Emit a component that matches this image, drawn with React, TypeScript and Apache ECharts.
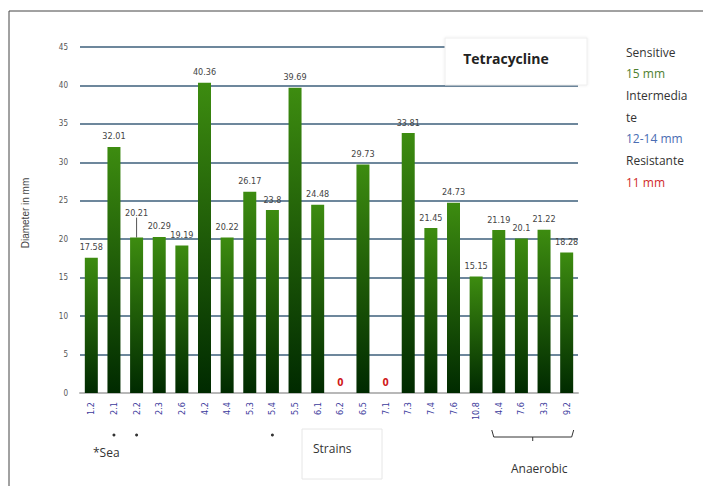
import React, { useEffect, useRef } from "react";
import * as echarts from "echarts";

const strains = ["1.2", "2.1", "2.2", "2.3", "2.6", "4.2", "4.4", "5.3", "5.4", "5.5", "6.1", "6.2", "6.5", "7.1", "7.3", "7.4", "7.6", "10.8", "4.4", "7.6", "3.3", "9.2"];
const diameters = [17.58, 32.01, 20.21, 20.29, 19.19, 40.36, 20.22, 26.17, 23.8, 39.69, 24.48, 0, 29.73, 0, 33.81, 21.45, 24.73, 15.15, 21.19, 20.1, 21.22, 18.28];
const seaStrainIdx = [1, 2, 8];
const anaerobicIdx = [18, 21];
const leaderLabelIdx = 2;
const legendLines = [
  { text: "Sensitive", color: "#333333" },
  { text: "15 mm", color: "#4f7f2f" },
  { text: "Intermedia", color: "#333333" },
  { text: "te", color: "#333333" },
  { text: "12-14 mm", color: "#4a6db3" },
  { text: "Resistante", color: "#333333" },
  { text: "11 mm", color: "#d02a2a" },
];

export default function App() {
  const ref = useRef<HTMLDivElement>(null);
  useEffect(() => {
    document.body.style.margin = "0";
    const chart = echarts.init(ref.current!, null, { renderer: "svg" });
    const barGrad = new echarts.graphic.LinearGradient(0, 0, 0, 1, [
      { offset: 0, color: "#3d8c10" },
      { offset: 1, color: "#002a00" },
    ]);
    const data = diameters.map((v, i) => {
      if (v === 0)
        return { value: v, label: { color: "#d01818", fontWeight: "bold", fontSize: 10, distance: 6 } };
      if (i === leaderLabelIdx)
        return { value: v, labelLine: { show: true, lineStyle: { color: "#555", width: 1 } } };
      return { value: v };
    });
    chart.setOption({
      animation: false,
      backgroundColor: "#ffffff",
      grid: { left: 80, right: 125, top: 47, bottom: 93 },
      xAxis: {
        type: "category",
        data: strains,
        axisLine: { lineStyle: { color: "#b8b8b8", width: 2 } },
        axisTick: { show: false },
        axisLabel: {
          rotate: 90,
          color: "#3b3b9c",
          fontSize: 9,
          margin: 9,
          interval: 0,
          fontFamily: "Liberation Sans Narrow, DejaVu Sans Condensed, sans-serif",
        },
      },
      yAxis: {
        type: "value",
        min: 0,
        max: 45,
        interval: 5,
        axisLine: { show: false },
        axisTick: { show: false },
        axisLabel: {
          color: "#555",
          fontSize: 8,
          margin: 12,
          fontFamily: "Liberation Sans Narrow, DejaVu Sans Condensed, sans-serif",
        },
        splitLine: { lineStyle: { color: "#6d879c", width: 2 } },
      },
      series: [
        {
          type: "bar",
          data,
          barWidth: 13,
          itemStyle: { color: barGrad },
          label: {
            show: true,
            position: "top",
            distance: 6,
            fontSize: 9,
            color: "#444",
            fontFamily: "Liberation Sans Narrow, DejaVu Sans Condensed, sans-serif",
          },
          labelLine: { show: false },
          labelLayout: (p: any) => (p.dataIndex === leaderLabelIdx ? { dy: -14 } : {}),
        },
      ],
    });

    const px = (i: number) => chart.convertToPixel({ xAxisIndex: 0 }, i) as number;
    const graphics: any[] = [
      {
        type: "rect",
        shape: { x: 9, y: 11, width: 800, height: 600 },
        style: { fill: "none", stroke: "#444", lineWidth: 1 },
        silent: true,
        z: 100,
      },
      {
        type: "rect",
        shape: { x: 445, y: 38, width: 142, height: 47 },
        style: { fill: "#ffffff", stroke: "#eeeeee", lineWidth: 1, shadowBlur: 3, shadowColor: "rgba(0,0,0,0.08)" },
        z: 100,
      },
      {
        type: "text",
        x: 506,
        y: 58,
        style: {
          text: "Tetracycline",
          font: "bold 14px 'Open Sans', sans-serif",
          fill: "#222",
          textAlign: "center",
          textVerticalAlign: "middle",
        },
        z: 101,
      },
      {
        type: "text",
        x: 25,
        y: 213,
        rotation: Math.PI / 2,
        style: {
          text: "Diameter in mm",
          font: "10px 'Liberation Sans', sans-serif",
          fill: "#444",
          textAlign: "center",
          textVerticalAlign: "middle",
        },
        z: 100,
      },
      ...legendLines.map((l, i) => ({
        type: "text",
        x: 626,
        y: 52 + i * 21.7,
        style: {
          text: l.text,
          font: "12px 'Open Sans', sans-serif",
          fill: l.color,
          textVerticalAlign: "middle",
        },
        z: 100,
      })),
      ...seaStrainIdx.map((i) => ({
        type: "circle",
        shape: { cx: px(i), cy: 435, r: 1.5 },
        style: { fill: "#333" },
        z: 100,
      })),
      {
        type: "text",
        x: 93,
        y: 452,
        style: { text: "*Sea", font: "12px 'Open Sans', sans-serif", fill: "#333", textVerticalAlign: "middle" },
        z: 100,
      },
      {
        type: "rect",
        shape: { x: 302, y: 429, width: 80, height: 50 },
        style: { fill: "#ffffff", stroke: "#e6e6e6", lineWidth: 1 },
        z: 100,
      },
      {
        type: "text",
        x: 313,
        y: 448,
        style: { text: "Strains", font: "12px 'Open Sans', sans-serif", fill: "#333", textVerticalAlign: "middle" },
        z: 101,
      },
      {
        type: "polyline",
        shape: {
          points: [
            [px(anaerobicIdx[0]) - 7, 430],
            [px(anaerobicIdx[0]) - 5, 437],
            [px(anaerobicIdx[1]) + 5, 437],
            [px(anaerobicIdx[1]) + 7, 430],
          ],
        },
        style: { stroke: "#333", lineWidth: 1, fill: "none" },
        z: 100,
      },
      {
        type: "line",
        shape: {
          x1: (px(anaerobicIdx[0]) + px(anaerobicIdx[1])) / 2,
          y1: 437,
          x2: (px(anaerobicIdx[0]) + px(anaerobicIdx[1])) / 2,
          y2: 441,
        },
        style: { stroke: "#333", lineWidth: 1 },
        z: 100,
      },
      {
        type: "text",
        x: 511,
        y: 468,
        style: { text: "Anaerobic", font: "12px 'Open Sans', sans-serif", fill: "#333", textVerticalAlign: "middle" },
        z: 100,
      },
    ];
    chart.setOption({ graphic: graphics });
    return () => chart.dispose();
  }, []);
  return <div ref={ref} style={{ width: 703, height: 486 }} />;
}
